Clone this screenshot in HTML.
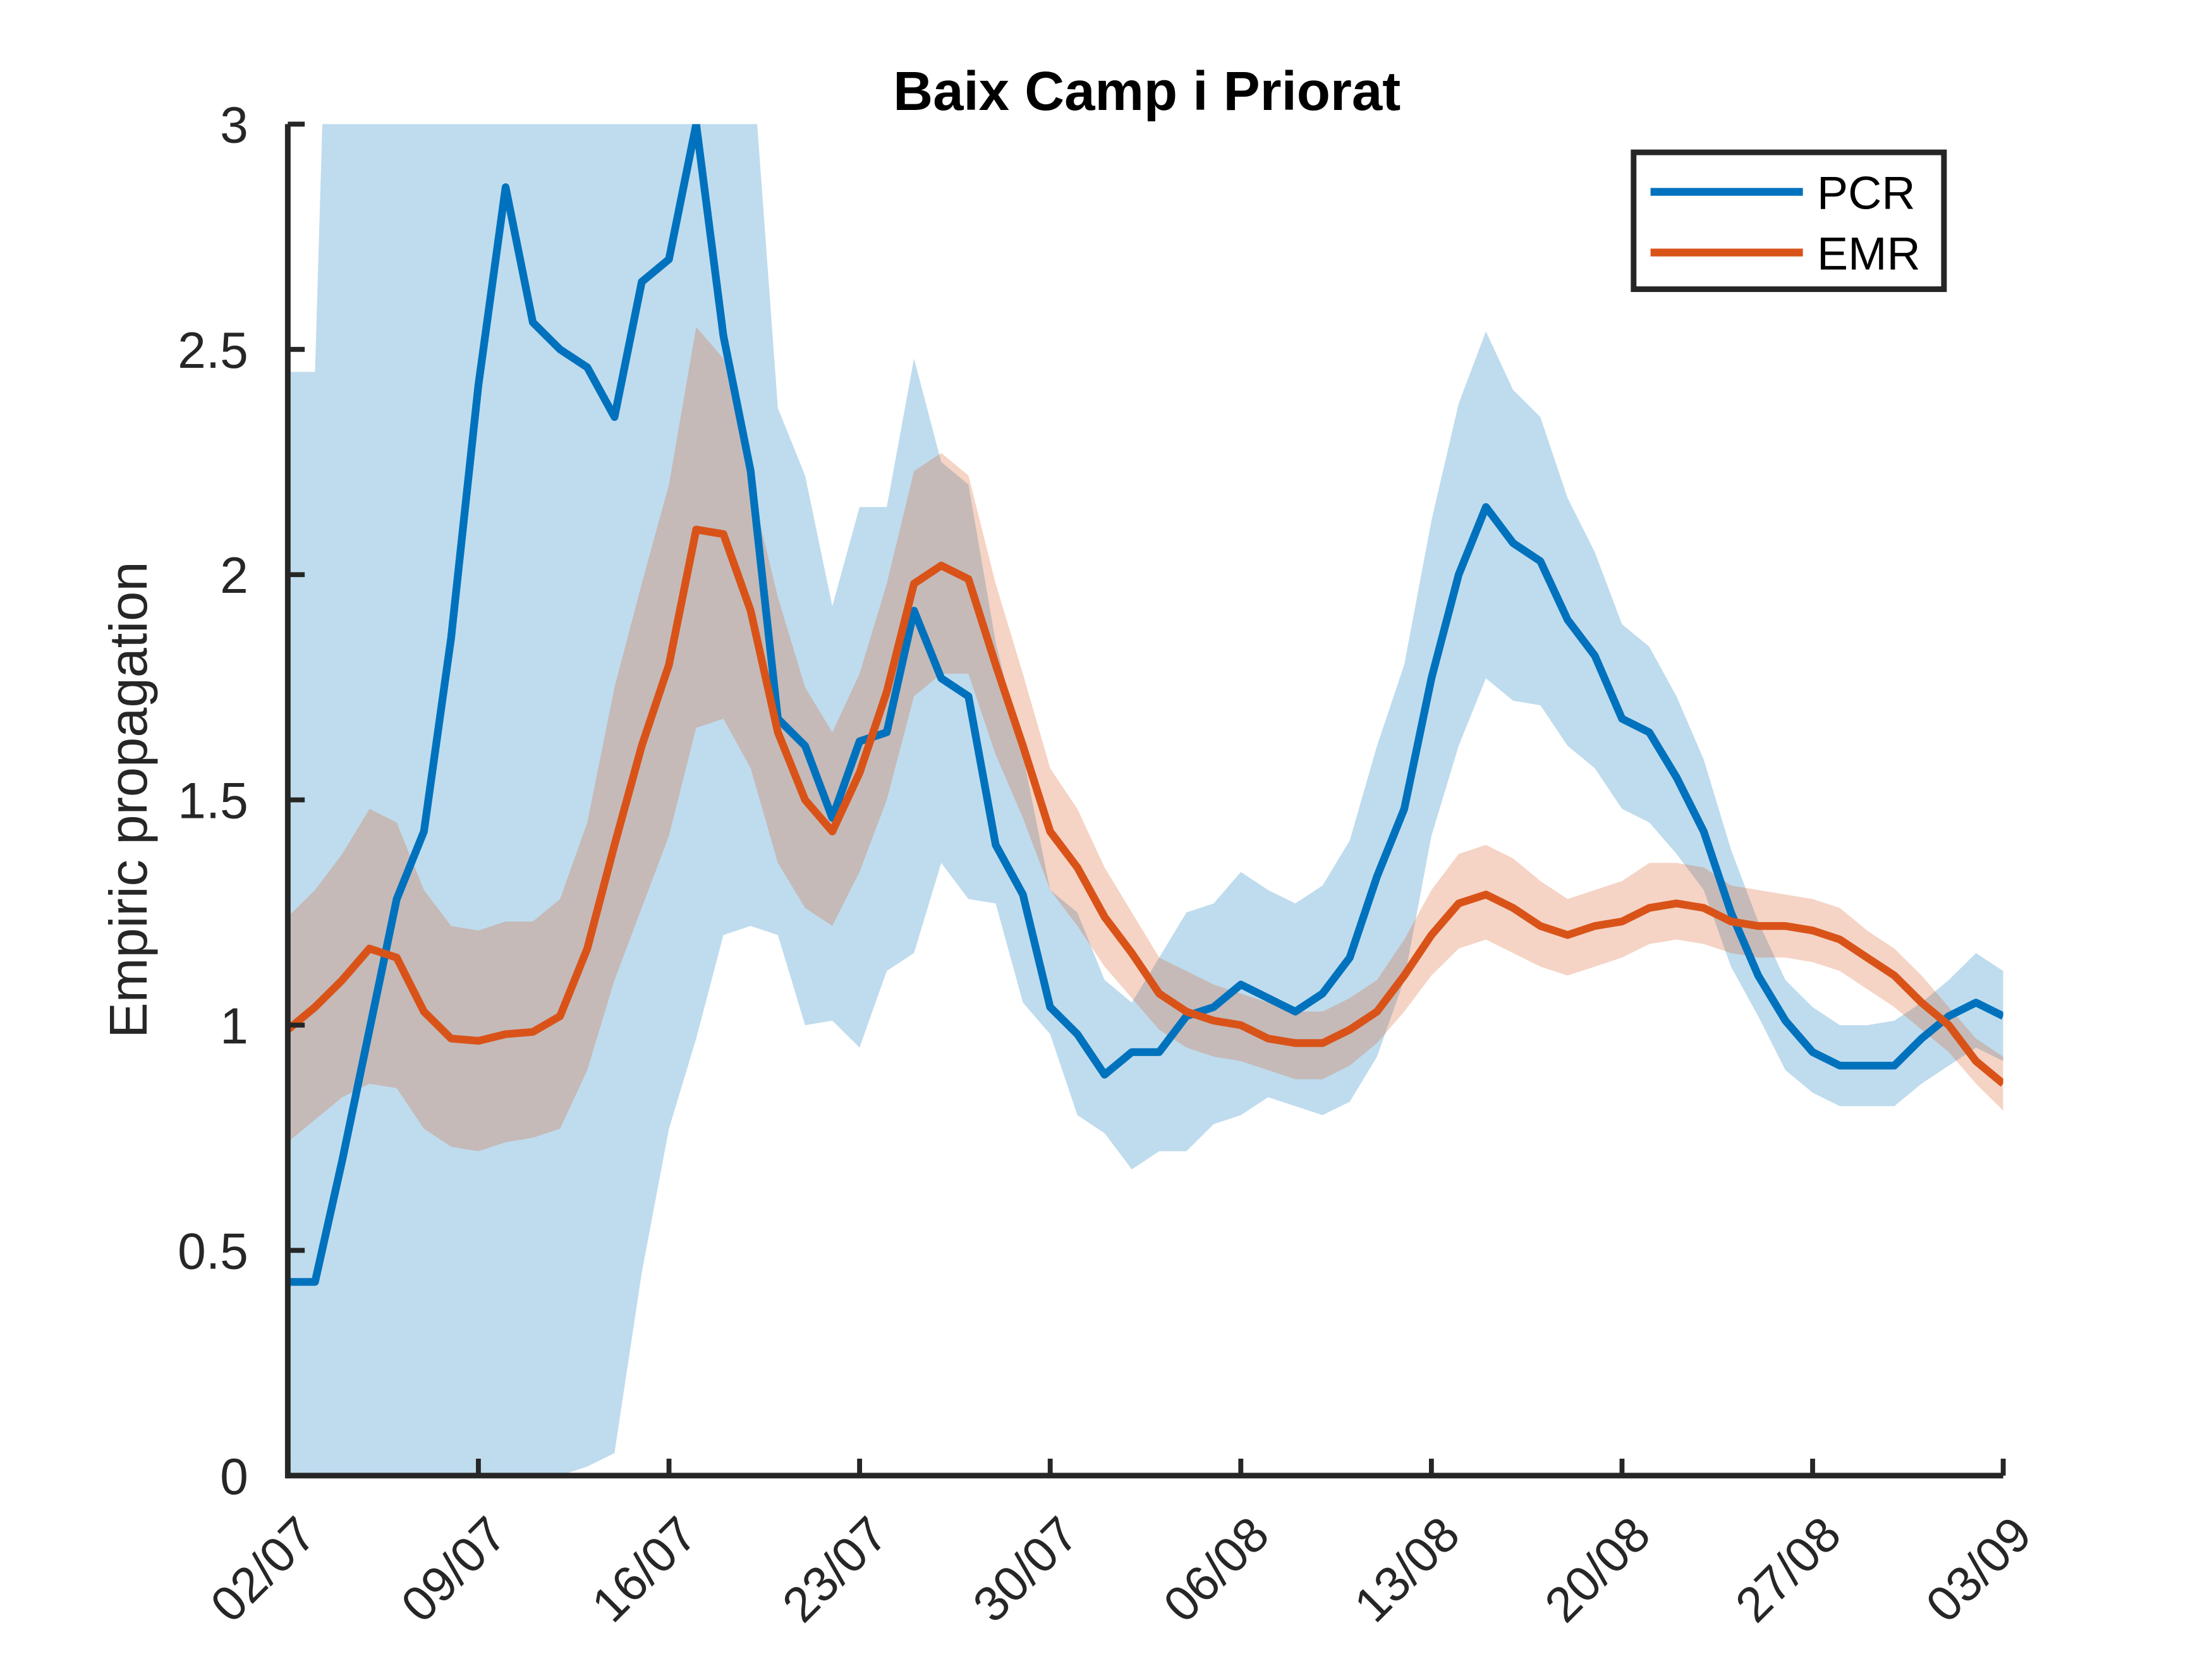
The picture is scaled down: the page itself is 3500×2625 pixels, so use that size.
<!DOCTYPE html>
<html><head><meta charset="utf-8"><style>
html,body{margin:0;padding:0;background:#fff;}
svg{display:block;font-family:"Liberation Sans",Arial,sans-serif;}
</style></head><body>
<svg id="chart" width="3500" height="2625" viewBox="0 0 1568 1176" xmlns="http://www.w3.org/2000/svg">
<defs><clipPath id="clip"><rect x="204" y="88" width="1216" height="958"/></clipPath></defs>
<text x="813" y="78" text-anchor="middle" font-size="39" font-weight="bold" fill="#000">Baix Camp i Priorat</text>
<text transform="translate(104,567) rotate(-90)" text-anchor="middle" font-size="38" fill="#262626">Empiric propagation</text>
<g id="bands" clip-path="url(#clip)"></g>
<g id="lines" clip-path="url(#clip)"></g>
<g id="axes"></g>
<g>
<rect x="1158" y="108" width="220" height="97" fill="#fff" stroke="#262626" stroke-width="4"/>
<line x1="1170" y1="136" x2="1278" y2="136" stroke="#0072BD" stroke-width="5.5"/>
<text x="1288" y="148" font-size="33" fill="#000">PCR</text>
<line x1="1170" y1="179" x2="1278" y2="179" stroke="#D95319" stroke-width="5.5"/>
<text x="1288" y="191" font-size="33" fill="#000">EMR</text>
</g>
</svg>
<script>
const dayCount = 64;
const xTickLabels = ["02/07","09/07","16/07","23/07","30/07","06/08","13/08","20/08","27/08","03/09"];
const yTickLabels = ["0","0.5","1","1.5","2","2.5","3"];
const pcr = [0.43,0.43,0.70,0.99,1.28,1.43,1.86,2.42,2.86,2.56,2.50,2.46,2.35,2.65,2.70,3.0,2.53,2.23,1.68,1.62,1.46,1.63,1.65,1.92,1.77,1.73,1.40,1.29,1.04,0.98,0.89,0.94,0.94,1.02,1.04,1.09,1.06,1.03,1.07,1.15,1.33,1.48,1.77,2.00,2.15,2.07,2.03,1.90,1.82,1.68,1.65,1.55,1.43,1.25,1.11,1.01,0.94,0.91,0.91,0.91,0.97,1.02,1.05,1.02];
const pcrUpper = [2.45,2.45,4.5,3.2,3.2,3.2,3.2,3.2,3.2,3.2,3.2,3.2,3.2,3.2,3.2,3.2,3.2,3.2,2.37,2.22,1.93,2.15,2.15,2.48,2.25,2.2,1.85,1.6,1.3,1.25,1.1,1.05,1.15,1.25,1.27,1.34,1.3,1.27,1.31,1.41,1.62,1.8,2.12,2.38,2.54,2.41,2.35,2.17,2.05,1.89,1.84,1.73,1.59,1.39,1.23,1.1,1.04,1.0,1.0,1.01,1.05,1.1,1.16,1.12];
const pcrLower = [0,0,0,0,0,0,0,0,0,0,0,0.02,0.05,0.45,0.77,0.97,1.2,1.22,1.2,1.0,1.01,0.95,1.12,1.16,1.36,1.28,1.27,1.05,0.98,0.8,0.76,0.68,0.72,0.72,0.78,0.8,0.84,0.82,0.8,0.83,0.93,1.1,1.42,1.62,1.77,1.72,1.71,1.62,1.57,1.48,1.45,1.38,1.3,1.13,1.02,0.9,0.85,0.82,0.82,0.82,0.87,0.91,0.95,0.92];
const emr = [0.99,1.04,1.1,1.17,1.15,1.03,0.97,0.965,0.98,0.985,1.02,1.17,1.4,1.62,1.8,2.1,2.09,1.92,1.65,1.5,1.43,1.56,1.74,1.98,2.02,1.99,1.8,1.62,1.43,1.35,1.24,1.16,1.07,1.03,1.01,1.0,0.97,0.96,0.96,0.99,1.03,1.11,1.2,1.27,1.29,1.26,1.22,1.2,1.22,1.23,1.26,1.27,1.26,1.23,1.22,1.22,1.21,1.19,1.15,1.11,1.05,1.0,0.92,0.87];
const emrUpper = [1.24,1.3,1.38,1.48,1.45,1.3,1.22,1.21,1.23,1.23,1.28,1.45,1.75,1.98,2.2,2.55,2.48,2.2,1.95,1.75,1.65,1.78,1.98,2.23,2.27,2.22,1.98,1.78,1.57,1.48,1.35,1.25,1.15,1.12,1.09,1.07,1.05,1.03,1.03,1.06,1.1,1.19,1.3,1.38,1.4,1.37,1.32,1.28,1.3,1.32,1.36,1.36,1.35,1.31,1.3,1.29,1.28,1.26,1.21,1.17,1.11,1.04,0.97,0.93];
const emrLower = [0.74,0.79,0.84,0.87,0.86,0.77,0.73,0.72,0.74,0.75,0.77,0.9,1.1,1.26,1.42,1.66,1.68,1.57,1.36,1.26,1.22,1.34,1.5,1.73,1.78,1.78,1.6,1.46,1.3,1.22,1.13,1.06,0.99,0.95,0.93,0.92,0.9,0.88,0.88,0.91,0.96,1.03,1.11,1.17,1.19,1.16,1.13,1.11,1.13,1.15,1.18,1.19,1.18,1.16,1.15,1.15,1.14,1.12,1.08,1.04,0.99,0.94,0.87,0.81];

const NS="http://www.w3.org/2000/svg";
const X0=204,X1=1420,Y0=1046,Y1=88;
const xS=i=>X0+(X1-X0)*i/(dayCount-1);
const yS=v=>Y0-(Y0-Y1)*v/3;
function mk(tag,attrs,parent){const e=document.createElementNS(NS,tag);for(const k in attrs)e.setAttribute(k,attrs[k]);parent.appendChild(e);return e;}
const bands=document.getElementById('bands'),lines=document.getElementById('lines'),axes=document.getElementById('axes');
function band(up,lo,color,name){
  let d="M"+up.map((v,i)=>xS(i).toFixed(1)+","+yS(v).toFixed(1)).join("L");
  for(let i=lo.length-1;i>=0;i--)d+="L"+xS(i).toFixed(1)+","+yS(lo[i]).toFixed(1);
  const p=mk('path',{d:d+"Z",fill:color,'fill-opacity':0.25,stroke:'none'},bands);
  
  
}
function line(vals,color,name){
  const p=mk('path',{d:"M"+vals.map((v,i)=>xS(i).toFixed(1)+","+yS(v).toFixed(1)).join("L"),fill:'none',stroke:color,'stroke-width':5.5,'stroke-linejoin':'round'},lines);
  
  
}
band(pcrUpper,pcrLower,'#0072BD','pcr-confidence-band');
band(emrUpper,emrLower,'#D95319','emr-confidence-band');
line(pcr,'#0072BD','pcr-line');
line(emr,'#D95319','emr-line');
const ax=mk('path',{d:`M${X0},${Y1}L${X0},${Y0}L${X1},${Y0}`,fill:'none',stroke:'#262626','stroke-width':4},axes);


yTickLabels.forEach((t,i)=>{
  const v=parseFloat(t),y=yS(v);
  mk('line',{x1:X0,y1:y,x2:X0+12,y2:y,stroke:'#262626','stroke-width':3.5},axes);
  const tx=mk('text',{x:X0-28,y:y+13,'text-anchor':'end','font-size':36,fill:'#262626'},axes);
  tx.textContent=t;
  
  
});
xTickLabels.forEach((t,k)=>{
  const i=Math.min(k*7,dayCount-1),x=xS(i);
  mk('line',{x1:x,y1:Y0,x2:x,y2:Y0-12,stroke:'#262626','stroke-width':3.5},axes);
  const tx=mk('text',{transform:`translate(${x+22},${Y0+44}) rotate(-45)`,'text-anchor':'end','font-size':35,fill:'#262626'},axes);
  tx.textContent=t;
  
  
});
</script>
</body></html>
